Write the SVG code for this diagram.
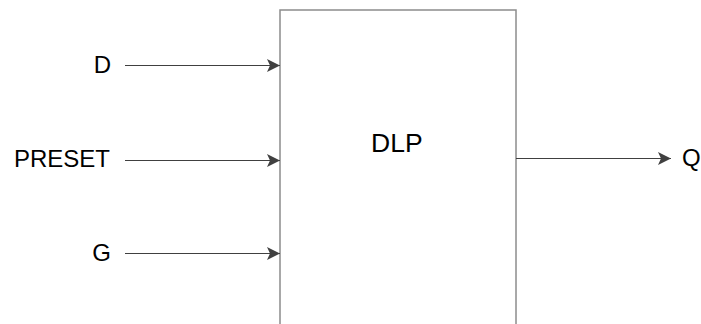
<svg xmlns="http://www.w3.org/2000/svg" width="701" height="324" viewBox="0 0 701 324">
<style>
.lbl{font-family:"Liberation Sans",Arial,sans-serif;font-size:24px;fill:#000}
.wire{stroke:#404040;stroke-width:1;fill:none}
</style>
<defs>
<marker id="arr" markerUnits="userSpaceOnUse" markerWidth="14" markerHeight="14" refX="13" refY="6.5" orient="auto" viewBox="0 0 14 13">
<path d="M0,0 L13,6.5 L0,13 L3,6.5 Z" fill="#404040"/>
</marker>
</defs>
<rect width="701" height="324" fill="#fff"/>
<g id="dlp">
<rect x="280" y="10" width="236" height="330" fill="#fff" stroke="#8c8c8c" stroke-width="1.5"/>
<text x="371" y="152" style="font-family:'Liberation Sans',Arial,sans-serif;font-size:26.5px">DLP</text>
</g>
<g id="in-d"><text class="lbl" x="111" y="73" text-anchor="end">D</text></g>
<g id="in-preset"><text class="lbl" x="110" y="167" text-anchor="end">PRESET</text></g>
<g id="in-g"><text class="lbl" x="111" y="261" text-anchor="end">G</text></g>
<g id="out-q"><text class="lbl" x="682" y="166">Q</text></g>
<g id="connectors">
<line class="wire" x1="125" y1="65.5" x2="280" y2="65.5" marker-end="url(#arr)"/>
<line class="wire" x1="125" y1="160.5" x2="280" y2="160.5" marker-end="url(#arr)"/>
<line class="wire" x1="125" y1="253.5" x2="280" y2="253.5" marker-end="url(#arr)"/>
<line class="wire" x1="516" y1="158.5" x2="671" y2="158.5" marker-end="url(#arr)"/>
</g>
</svg>
